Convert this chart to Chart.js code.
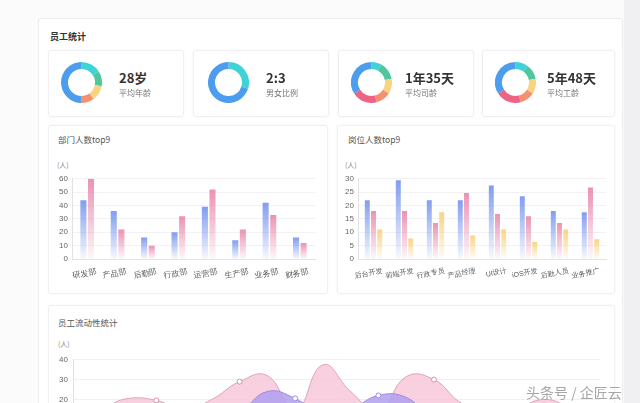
<!DOCTYPE html>
<html>
<head>
<meta charset="utf-8">
<script src="https://cdn.jsdelivr.net/npm/chart.js@4/dist/chart.umd.min.js"></script>
<style>
  html, body { margin: 0; padding: 0; width: 640px; height: 403px; overflow: hidden; background: #fbfbfc; font-family: "Noto Sans CJK SC", "Noto Sans", sans-serif; }
  .abs { position: absolute; }
  .panel { left: 38px; top: 18px; width: 583px; height: 520px; background: #fff; border: 1px solid #ececef; border-radius: 3px; }
  .strip { left: 624px; top: 0; width: 16px; height: 403px; background: #f0f0f2; }
  .card { background: #fff; border: 1px solid #efeff3; border-radius: 3px; box-shadow: 0 0 3px rgba(0,0,0,0.04); }
  .h { font-size: 9px; color: #333; font-weight: bold; }
  .t { font-size: 8.5px; color: #555; }
  .unit { font-size: 7px; color: #888; }
  .big { font-size: 13px; font-weight: bold; color: #333; }
  .sub { font-size: 8px; color: #777; }
  .wm { font-size: 14px; color: #a6a6a6; white-space: nowrap; }
</style>
</head>
<body>
<div class="abs strip"></div>
<div class="abs panel"></div>
<div class="abs h" style="left:50px;top:30px;">员工统计</div>

<div class="abs card" style="left:48px;top:50px;width:134px;height:65px;"></div>
<div class="abs card" style="left:193px;top:50px;width:134px;height:65px;"></div>
<div class="abs card" style="left:338px;top:50px;width:134px;height:65px;"></div>
<div class="abs card" style="left:482px;top:50px;width:131px;height:65px;"></div>

<div class="abs" style="left:61px;top:62px;width:41px;height:41px;"><canvas id="d1"></canvas></div>
<div class="abs" style="left:208px;top:62px;width:41px;height:41px;"><canvas id="d2"></canvas></div>
<div class="abs" style="left:351px;top:62px;width:41px;height:41px;"><canvas id="d3"></canvas></div>
<div class="abs" style="left:495px;top:62px;width:41px;height:41px;"><canvas id="d4"></canvas></div>

<div class="abs big" style="left:119px;top:68px;">28岁</div>
<div class="abs sub" style="left:119px;top:87px;">平均年龄</div>
<div class="abs big" style="left:266px;top:68px;">2:3</div>
<div class="abs sub" style="left:266px;top:87px;">男女比例</div>
<div class="abs big" style="left:405px;top:68px;">1年35天</div>
<div class="abs sub" style="left:405px;top:87px;">平均司龄</div>
<div class="abs big" style="left:547px;top:68px;">5年48天</div>
<div class="abs sub" style="left:547px;top:87px;">平均工龄</div>

<div class="abs card" style="left:48px;top:125px;width:278px;height:167px;"></div>
<div class="abs card" style="left:337px;top:125px;width:276px;height:167px;"></div>
<div class="abs t" style="left:58px;top:133px;">部门人数top9</div>
<div class="abs t" style="left:348px;top:133px;">岗位人数top9</div>
<div class="abs unit" style="left:57px;top:160px;">(人)</div>
<div class="abs unit" style="left:345px;top:160px;">(人)</div>
<div class="abs" style="left:50px;top:170px;width:270px;height:115px;"><canvas id="dept"></canvas></div>
<div class="abs" style="left:338px;top:170px;width:275px;height:115px;"><canvas id="post"></canvas></div>

<div class="abs card" style="left:48px;top:305px;width:565px;height:200px;"></div>
<div class="abs t" style="left:58px;top:316px;">员工流动性统计</div>
<div class="abs unit" style="left:58px;top:339px;">(人)</div>
<div class="abs" style="left:50px;top:350px;width:562px;height:120px;"><canvas id="flow"></canvas></div>

<div class="abs wm" style="left:526px;top:382px;">头条号 / 企匠云</div>

<script>
// donut cards
const ageGroups = ['25岁以下', '25-30岁', '30-35岁', '35-40岁', '40岁以上'];
const ageShare = [16, 12, 12, 10, 50];
const genders = ['女', '男'];
const genderShare = [30, 70];
const tenureGroups = ['1年以下', '1-2年', '2-3年', '3-5年', '5年以上', '其他'];
const companyTenure = [8, 14, 12, 12, 20, 34];
const workTenure = [10, 12, 12, 12, 20, 34];

// department headcount
const departments = ['研发部', '产品部', '后勤部', '行政部', '运营部', '生产部', '业务部', '财务部'];
const deptBlue = [44, 36, 16, 20, 39, 14, 42, 16];
const deptPink = [60, 22, 10, 32, 52, 22, 33, 12];

// position headcount
const positions = ['后台开发', '前端开发', '行政专员', '产品经理', 'UI设计', 'iOS开发', '后勤人员', '业务推广'];
const postBlue = [22, 29.5, 22, 22, 27.5, 23.5, 18, 17.5];
const postPink = [18, 18, 13.5, 24.7, 16.8, 16, 13.5, 26.7];
const postYellow = [11, 7.7, 17.5, 8.8, 11, 6.4, 11, 7.4];

// staff flow
const days = ['1日', '2日', '3日', '4日', '5日', '6日', '7日', '8日', '9日', '10日',
              '11日', '12日', '13日', '14日', '15日', '16日', '17日', '18日', '19日', '20日'];
const flowIn = [15, 16, 20.5, 19.5, 15, 20, 29, 32, 14, 37.5, 24, 14, 31.5, 30, 18, 14, 16, 20, 16, 15];
const flowOut = [8, 8, 9, 10, 10, 11, 14, 24, 20.5, 12, 15, 22, 21, 10, 10, 11, 12, 11, 10, 9];

const BLUE = '#4c9ded', CYAN = '#3fd3d6', GREEN = '#4fc79c', YELLOW = '#f8d480', SALMON = '#f5916f', RED = '#ee6384';

function donut(id, labels, data, colors) {
  new Chart(document.getElementById(id), {
    type: 'doughnut',
    data: { labels: labels, datasets: [{ data: data, backgroundColor: colors, borderWidth: 0 }] },
    options: {
      responsive: true, maintainAspectRatio: false, animation: false, cutout: '66%',
      plugins: { legend: { display: false }, tooltip: { enabled: false } }
    }
  });
}
donut('d1', ageGroups, ageShare, [CYAN, GREEN, YELLOW, SALMON, BLUE]);
donut('d2', genders, genderShare, [CYAN, BLUE]);
donut('d3', tenureGroups, companyTenure, [CYAN, GREEN, YELLOW, SALMON, RED, BLUE]);
donut('d4', tenureGroups, workTenure, [CYAN, GREEN, YELLOW, SALMON, RED, BLUE]);

// per-bar vertical fade
function fade(rgb) {
  return c => {
    const a = c.chart.chartArea;
    if (!a || c.type !== 'data') return 'rgb(' + rgb + ')';
    const top = c.chart.scales.y.getPixelForValue(c.raw);
    const g = c.chart.ctx.createLinearGradient(0, top, 0, a.bottom);
    g.addColorStop(0, 'rgba(' + rgb + ',0.95)');
    g.addColorStop(1, 'rgba(' + rgb + ',0.06)');
    return g;
  };
}

function barChart(id, labels, sets, max, step, yWidth, pad, catPct, fontSize) {
  new Chart(document.getElementById(id), {
    type: 'bar',
    data: {
      labels: labels,
      datasets: sets.map(s => ({
        data: s.data, backgroundColor: fade(s.rgb), borderWidth: 0,
        categoryPercentage: catPct, barPercentage: 0.8
      }))
    },
    options: {
      responsive: true, maintainAspectRatio: false, animation: false,
      layout: { padding: pad },
      plugins: { legend: { display: false }, tooltip: { enabled: false } },
      scales: {
        x: {
          grid: { display: false },
          border: { color: '#e2e2e6' },
          ticks: { font: { size: fontSize }, color: '#555', autoSkip: false, minRotation: 10, maxRotation: 10, padding: 0, labelOffset: 9 },
          afterFit: s => { s.height = 26; }
        },
        y: {
          min: 0, max: max,
          ticks: { stepSize: step, font: { size: 8 }, color: '#666', padding: 4 },
          grid: { color: '#f2f2f4', drawTicks: false },
          border: { color: '#e2e2e6' },
          afterFit: s => { s.width = yWidth; }
        }
      }
    }
  });
}

barChart('dept', departments, [
  { data: deptBlue, rgb: '122,152,238' },
  { data: deptPink, rgb: '234,140,176' }
], 60, 10, 22, { top: 6, right: 5 }, 0.5, 8);

barChart('post', positions, [
  { data: postBlue, rgb: '122,152,238' },
  { data: postPink, rgb: '234,140,176' },
  { data: postYellow, rgb: '248,210,125' }
], 30, 5, 20, { top: 6, right: 7 }, 0.6, 7);

new Chart(document.getElementById('flow'), {
  type: 'line',
  data: {
    labels: days,
    datasets: [
      {
        data: flowOut, order: 0, fill: 'origin', tension: 0.45,
        borderColor: '#9d88e2', borderWidth: 1, backgroundColor: 'rgba(178,160,240,0.85)',
        pointRadius: [0, 0, 0, 0, 0, 0, 0, 0, 2.5, 0, 0, 2.5, 0, 0, 0, 0, 0, 0, 0, 0],
        pointBackgroundColor: '#fff', pointBorderColor: '#9d88e2', pointBorderWidth: 1
      },
      {
        data: flowIn, order: 1, fill: 'origin', tension: 0.45,
        borderColor: '#dfa2bb', borderWidth: 1, backgroundColor: 'rgba(247,196,215,0.8)',
        pointRadius: [0, 0, 0, 2.5, 0, 0, 2.5, 0, 0, 0, 0, 0, 0, 2.5, 0, 0, 0, 0, 0, 0],
        pointBackgroundColor: '#fff', pointBorderColor: '#d790ad', pointBorderWidth: 1
      }
    ]
  },
  options: {
    responsive: true, maintainAspectRatio: false, animation: false,
    layout: { padding: { top: 9, right: 2 } },
    plugins: { legend: { display: false }, tooltip: { enabled: false } },
    scales: {
      x: {
        offset: false,
        grid: { display: false },
        border: { color: '#e2e2e6' },
        ticks: { font: { size: 8 }, color: '#666' },
        afterFit: s => { s.height = 31; }
      },
      y: {
        min: 0, max: 40,
        ticks: { stepSize: 10, font: { size: 8 }, color: '#666', padding: 5 },
        grid: { color: '#f0f0f2', drawTicks: false },
        border: { color: '#e2e2e6' },
        afterFit: s => { s.width = 23; }
      }
    }
  }
});
</script>
</body>
</html>
